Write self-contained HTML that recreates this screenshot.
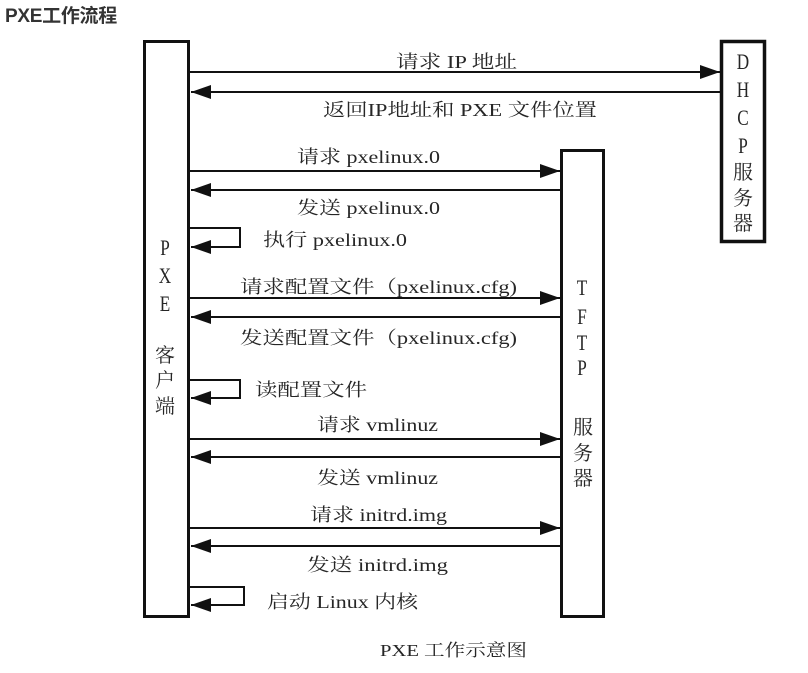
<!DOCTYPE html>
<html><head><meta charset="utf-8"><style>
html,body{margin:0;padding:0;background:#fff;}
body{width:808px;height:673px;overflow:hidden;position:relative;}
.t{position:absolute;left:5px;top:1px;font-family:"Liberation Sans","Noto Sans CJK SC",sans-serif;font-weight:bold;font-size:19px;color:#333;letter-spacing:-0.3px;}
svg{position:absolute;left:0;top:0;}
text{font-family:"Liberation Serif","Noto Serif CJK SC",serif;fill:#262626;font-size:18px;}
.L{font-size:22px;}
.C{font-size:20px;}
</style></head><body>
<div class="t">PXE工作流程</div>
<svg width="808" height="673" viewBox="0 0 808 673">
<defs>
<marker id="a" markerWidth="20" markerHeight="14" refX="20" refY="7" orient="auto" markerUnits="userSpaceOnUse">
<path d="M0,0 L20,7 L0,14 Z" fill="#111"/>
</marker>
</defs>
<g fill="none" stroke="#111">
<rect x="144.5" y="41.5" width="44" height="575" stroke-width="3"/>
<rect x="561.5" y="150.5" width="42" height="466" stroke-width="3"/>
<rect x="721.5" y="41.5" width="43" height="200" stroke-width="3.5"/>
</g>
<g stroke="#111" stroke-width="2" fill="none">
<line x1="190" y1="72" x2="720" y2="72" marker-end="url(#a)"/>
<line x1="720" y1="92" x2="191" y2="92" marker-end="url(#a)"/>
<line x1="190" y1="171" x2="560" y2="171" marker-end="url(#a)"/>
<line x1="560" y1="190" x2="191" y2="190" marker-end="url(#a)"/>
<polyline points="190,228 240,228 240,247 191,247" marker-end="url(#a)"/>
<line x1="190" y1="298" x2="560" y2="298" marker-end="url(#a)"/>
<line x1="560" y1="317" x2="191" y2="317" marker-end="url(#a)"/>
<polyline points="190,380 240,380 240,398 191,398" marker-end="url(#a)"/>
<line x1="190" y1="439" x2="560" y2="439" marker-end="url(#a)"/>
<line x1="560" y1="457" x2="191" y2="457" marker-end="url(#a)"/>
<line x1="190" y1="528" x2="560" y2="528" marker-end="url(#a)"/>
<line x1="560" y1="546" x2="191" y2="546" marker-end="url(#a)"/>
<polyline points="190,587 244,587 244,605 191,605" marker-end="url(#a)"/>
</g>
<text x="396" y="68" textLength="121" lengthAdjust="spacingAndGlyphs">请求 IP 地址</text>
<text x="323" y="116" textLength="274" lengthAdjust="spacingAndGlyphs">返回IP地址和 PXE 文件位置</text>
<text x="297" y="163" textLength="143" lengthAdjust="spacingAndGlyphs">请求 pxelinux.0</text>
<text x="297" y="214" textLength="143" lengthAdjust="spacingAndGlyphs">发送 pxelinux.0</text>
<text x="263" y="246" textLength="144" lengthAdjust="spacingAndGlyphs">执行 pxelinux.0</text>
<text x="240" y="293" textLength="277" lengthAdjust="spacingAndGlyphs">请求配置文件（pxelinux.cfg)</text>
<text x="240" y="344" textLength="277" lengthAdjust="spacingAndGlyphs">发送配置文件（pxelinux.cfg)</text>
<text x="255" y="396" textLength="112" lengthAdjust="spacingAndGlyphs">读配置文件</text>
<text x="317" y="431" textLength="121" lengthAdjust="spacingAndGlyphs">请求 vmlinuz</text>
<text x="317" y="484" textLength="121" lengthAdjust="spacingAndGlyphs">发送 vmlinuz</text>
<text x="310" y="521" textLength="137" lengthAdjust="spacingAndGlyphs">请求 initrd.img</text>
<text x="307" y="571" textLength="141" lengthAdjust="spacingAndGlyphs">发送  initrd.img</text>
<text x="267" y="608" textLength="151" lengthAdjust="spacingAndGlyphs">启动 Linux 内核</text>
<text x="380" y="656" textLength="147" lengthAdjust="spacingAndGlyphs" style="font-size:17px">PXE 工作示意图</text>
<g text-anchor="middle">
<text class="L" transform="translate(165,255) scale(0.78,1)">P</text>
<text class="L" transform="translate(165,283) scale(0.78,1)">X</text>
<text class="L" transform="translate(165,311) scale(0.78,1)">E</text>
<text class="C" x="165" y="362">客</text>
<text class="C" x="165" y="387">户</text>
<text class="C" x="165" y="413">端</text>
<text class="L" transform="translate(582,295) scale(0.78,1)">T</text>
<text class="L" transform="translate(582,324) scale(0.78,1)">F</text>
<text class="L" transform="translate(582,350) scale(0.78,1)">T</text>
<text class="L" transform="translate(582,375) scale(0.78,1)">P</text>
<text class="C" x="583" y="434">服</text>
<text class="C" x="583" y="460">务</text>
<text class="C" x="583" y="485">器</text>
<text class="L" transform="translate(743,69) scale(0.78,1)">D</text>
<text class="L" transform="translate(743,97) scale(0.78,1)">H</text>
<text class="L" transform="translate(743,125) scale(0.78,1)">C</text>
<text class="L" transform="translate(743,153) scale(0.78,1)">P</text>
<text class="C" x="743" y="179">服</text>
<text class="C" x="743" y="205">务</text>
<text class="C" x="743" y="230">器</text>
</g>
</svg>
</body></html>
